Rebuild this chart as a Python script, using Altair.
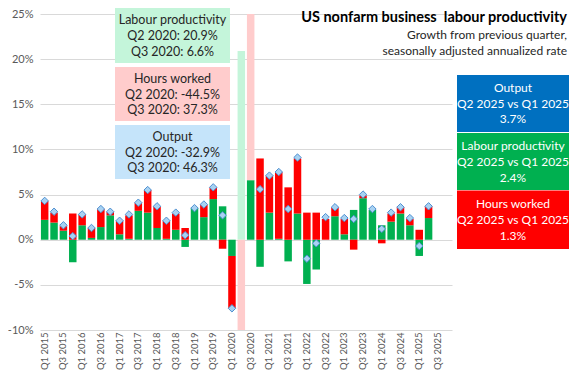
import altair as alt
import pandas as pd

quarters = [f"Q{q} {y}" for y in range(2015, 2026) for q in range(1, 5)]

prod = [2.2, 1.9, 1.0, -2.5, 1.6, 0.2, 1.4, 2.7, 0.6, 0.1, 3.2, 3.0,
        1.3, 0.1, 1.1, -0.8, 3.5, 2.5, 4.5, 3.7, -1.8, 20.9, 6.6, -3.0,
        3.0, 0.1, -2.4, 2.9, -4.9, -3.3, 0.0, 2.6, 0.6, 3.3, 4.6, 3.3,
        1.6, 2.0, 2.9, 1.6, -1.8, 2.4]
hours = [2.1, 1.1, 0.5, 2.9, 1.2, 1.1, 2.0, 0.4, 1.5, 2.6, 0.9, 2.5,
         2.4, 2.0, 1.8, 1.3, 0.0, 1.4, 1.3, -1.0, -5.8, -44.5, 37.3, 9.0,
         4.1, 7.4, 5.8, 6.1, 3.0, 3.0, 2.3, 1.0, 1.7, -1.1, 0.3, 0.0,
         -0.4, 0.9, 0.7, 0.7, 1.1, 1.3]
output = [4.3, 3.1, 1.6, 0.4, 2.8, 1.3, 3.4, 3.1, 2.1, 2.8, 4.1, 5.5,
          3.7, 2.1, 3.0, 0.5, 3.5, 3.9, 5.8, 2.7, -7.6, -32.9, 46.3, 5.6,
          7.1, 7.5, 3.4, 9.1, -2.1, -0.4, 2.5, 3.6, 2.4, 2.3, 5.0, 3.4,
          1.2, 3.0, 3.6, 2.4, -0.7, 3.7]
faded_quarters = ["Q2 2020", "Q3 2020"]
faded_segments = [("Q2 2020", "prod"), ("Q2 2020", "hours"), ("Q3 2020", "hours")]

rows = []
for i, (p, h) in enumerate(zip(prod, hours)):
    q = quarters[i]
    pos, neg = 0.0, 0.0
    for s, v in (("prod", p), ("hours", h)):
        if v >= 0:
            y0, y1 = pos, pos + v
            pos = y1
        else:
            y0, y1 = neg, neg + v
            neg = y1
        kind = s + ("_light" if (q, s) in faded_segments else "")
        rows.append({"q": q, "y0": y0, "y1": y1, "kind": kind, "order": 0 if s == "prod" else 1})
bars_df = pd.DataFrame(rows)

out_df = pd.DataFrame({"q": quarters[:len(output)], "v": output})
out_df = out_df[~out_df["q"].isin(faded_quarters)]

FONT = "Lato"
PX0, PY0 = 40, 14  # page position of the plot origin (8px page margin + padding)

xscale = alt.Scale(domain=quarters, paddingInner=0.2, paddingOuter=0.1)
yscale = alt.Scale(domain=[-10, 25], nice=False, zero=False)

xaxis = alt.Axis(values=quarters[::2], labelAngle=-90, ticks=False, domain=False,
                 grid=False, title=None, labelFontSize=9.5, labelColor="#595959",
                 labelPadding=2, labelFont=FONT)
yaxis = alt.Axis(values=[-10, -5, 0, 5, 10, 15, 20, 25], labelExpr="datum.value + '%'",
                 ticks=False, domain=False, grid=True, gridColor="#D9D9D9", title=None,
                 labelFontSize=11, labelColor="#595959", labelPadding=7, labelFont=FONT)

bars = alt.Chart(bars_df).mark_bar(clip=True).encode(
    x=alt.X("q:N", scale=xscale, axis=xaxis, sort=quarters),
    y=alt.Y("y0:Q", scale=yscale, axis=yaxis),
    y2="y1:Q",
    color=alt.Color("kind:N", legend=None, scale=alt.Scale(
        domain=["prod", "hours", "prod_light", "hours_light"],
        range=["#00B050", "#FF0000", "#C4F5DA", "#FFCCCC"])),
    order="order:Q",
)

points = alt.Chart(out_df).mark_point(shape="diamond", filled=True, size=55, fill="#A8D2F2",
                                      stroke="#4F8FD0", strokeWidth=1, opacity=1).encode(
    x=alt.X("q:N", scale=xscale, sort=quarters),
    y=alt.Y("v:Q", scale=yscale),
)

dummy = pd.DataFrame({"a": [0]})


def box(x0, x1, y0, y1, color):
    # page coordinates -> plot coordinates
    return alt.Chart(dummy).mark_rect().encode(
        x=alt.value(x0 - PX0), x2=alt.value(x1 - PX0),
        y=alt.value(y0 - PY0), y2=alt.value(y1 - PY0),
        color=alt.value(color))


def label(x, y, text, color="#262626", size=12.5, weight="normal", align="center"):
    return alt.Chart(pd.DataFrame({"t": [text]})).mark_text(
        align=align, baseline="middle", fontSize=size,
        fontWeight=weight, color=color, font=FONT).encode(
        x=alt.value(x - PX0), y=alt.value(y - PY0), text="t:N")


def lines(x, ys, texts, **kw):
    return [label(x, y, t, **kw) for y, t in zip(ys, texts)]


iq2 = quarters.index("Q2 2020")
iq3 = quarters.index("Q3 2020")
ilast = len(prod) - 1
last_q = quarters[ilast]
prev_q = quarters[ilast - 1]
cmp_txt = f"{last_q} vs {prev_q}"

layers = [bars, points]
layers += [box(115, 230, 8, 63, "#C4F5DA"), box(115, 230, 67, 121, "#FFCCCC"),
           box(115, 230, 125, 179, "#C5E4FA")]
layers += lines(172.5, [20, 36, 52], ["Labour productivity",
                                      f"Q2 2020: {prod[iq2]:.1f}%", f"Q3 2020: {prod[iq3]:.1f}%"])
layers += lines(172.5, [79, 94.5, 110], ["Hours worked",
                                         f"Q2 2020: {hours[iq2]:.1f}%", f"Q3 2020: {hours[iq3]:.1f}%"])
layers += lines(172.5, [137, 152.5, 168], ["Output",
                                           f"Q2 2020: {output[iq2]:.1f}%", f"Q3 2020: {output[iq3]:.1f}%"])
BX0, BX1 = 457, 569
BXC = (BX0 + BX1) / 2
layers += [box(BX0, BX1, 75, 132, "#0070C0"), box(BX0, BX1, 133, 190, "#00B050"),
           box(BX0, BX1, 190.5, 249, "#FF0000")]
layers += lines(BXC, [88, 104, 119], ["Output", cmp_txt, f"{output[ilast]:.1f}%"],
                color="white", size=12)
layers += lines(BXC, [146, 162, 178], ["Labour productivity", cmp_txt, f"{prod[ilast]:.1f}%"],
                color="white", size=12)
layers += lines(BXC, [204, 220, 236], ["Hours worked", cmp_txt, f"{hours[ilast]:.1f}%"],
                color="white", size=12)
layers += [
    label(567, 18, "US nonfarm business\u00a0 labour productivity", color="#000000", size=14.5,
          weight="bold", align="right"),
    label(567, 35, "Growth from previous quarter,", color="#262626", size=12, align="right"),
    label(567, 51, "seasonally adjusted annualized rate", color="#262626", size=12, align="right"),
]

chart = alt.layer(*layers).properties(
    width=412, height=316,
    autosize=alt.AutoSizeParams(type="none"),
    padding={"left": 32, "top": 6, "right": 117, "bottom": 42},
).configure_view(stroke=None)

chart.save("out.html", embed_options={"renderer": "svg", "actions": False})
